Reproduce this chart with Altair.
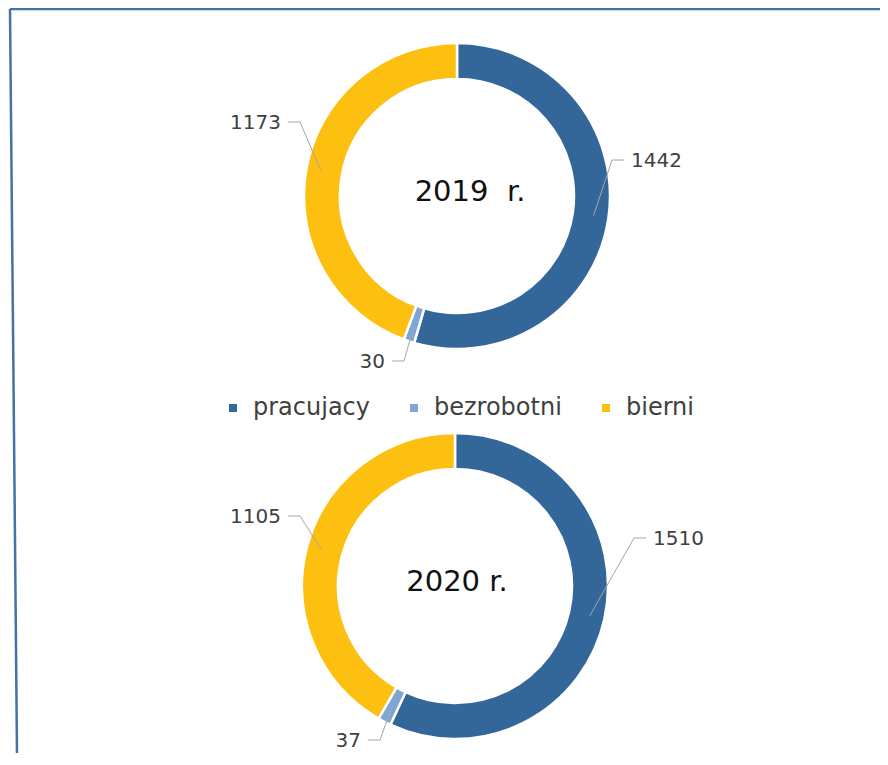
import math
import altair as alt
import pandas as pd

# ---------------- data ----------------
categories = ["pracujacy", "bezrobotni", "bierni"]
colors = ["#336699", "#7FA6D2", "#FDC010"]
years = ["2019", "2020"]
titles = ["2019 \u00a0r.", "2020 r."]
values_2019 = [1442, 30, 1173]
values_2020 = [1510, 37, 1105]
values = {"2019": values_2019, "2020": values_2020}

# ---------------- layout (page pixels) ----------------
W, H = 872, 745
M = 8  # page margin
centers = {"2019": (457, 196), "2020": (455, 586)}
title_shift = {"2019": (13, -4), "2020": (2, -4)}
R_OUT, R_IN, R_LEAD = 153, 117, 138
# elbow of each leader line, relative to the donut centre
elbows = {
    "2019": [(155, -36), (-53, 165), (-157, -74)],
    "2020": [(179, -48), (-75, 154), (-155, -70)],
}
ARM = 12
GAP = 7

arc_frames = {}
line_rows = []
label_rows = []
title_rows = []
for yi, yr in enumerate(years):
    vals = values[yr]
    cx, cy = centers[yr]
    arc_frames[yr] = pd.DataFrame(
        {"category": categories, "value": vals, "idx": list(range(len(vals)))}
    )
    total = sum(vals)
    cum = 0
    for i, v in enumerate(vals):
        mid = (cum + v / 2) / total * 2 * math.pi
        cum += v
        sx = cx + R_LEAD * math.sin(mid)
        sy = cy - R_LEAD * math.cos(mid)
        ex, ey = cx + elbows[yr][i][0], cy + elbows[yr][i][1]
        side = 1 if elbows[yr][i][0] > 0 else -1
        hx = ex + side * ARM
        lid = f"{yr}-{i}"
        for seq, (px, py) in enumerate([(sx, sy), (ex, ey), (hx, ey)]):
            line_rows.append({"id": lid, "seq": seq, "x": px - M, "y": py - M})
        label_rows.append(
            {
                "text": str(v),
                "x": hx + side * GAP - M,
                "y": ey + 1 - M,
                "align": "left" if side > 0 else "right",
            }
        )
    title_rows.append(
        {"text": titles[yi], "x": cx + title_shift[yr][0] - M, "y": cy + title_shift[yr][1] - M}
    )

lines_df = pd.DataFrame(line_rows)
labels_df = pd.DataFrame(label_rows)
titles_df = pd.DataFrame(title_rows)
frame_df = pd.DataFrame(
    [
        {"id": "top", "seq": 0, "x": 2, "y": 1},
        {"id": "top", "seq": 1, "x": W, "y": 1},
        {"id": "left", "seq": 0, "x": 2, "y": 1},
        {"id": "left", "seq": 1, "x": 9, "y": H},
    ]
)

xs = alt.Scale(domain=[0, W], range=[0, W], nice=False, zero=False)
ys = alt.Scale(domain=[0, H], range=[0, H], nice=False, zero=False)

color_enc = alt.Color(
    "category:N",
    scale=alt.Scale(domain=categories, range=colors),
    sort=categories,
    legend=alt.Legend(
        title=None,
        orient="none",
        legendX=221 - M,
        legendY=396 - M,
        direction="horizontal",
        symbolType="square",
        symbolSize=64,
        symbolStrokeWidth=0,
        labelFont="DejaVu Sans",
        labelFontSize=24,
        labelColor="#404040",
        labelOffset=8,
        columnPadding=32,
        padding=0,
    ),
)

layers = []
for yr in years:
    cx, cy = centers[yr]
    layers.append(
        alt.Chart(arc_frames[yr])
        .mark_arc(outerRadius=R_OUT, innerRadius=R_IN, stroke="white", strokeWidth=2.5)
        .encode(
            theta=alt.Theta("value:Q", stack=True),
            color=color_enc,
            order=alt.Order("idx:Q"),
            x=alt.value(cx - M),
            y=alt.value(cy - M),
        )
    )

leaders = (
    alt.Chart(lines_df)
    .mark_line(color="#A6A6A6", strokeWidth=1)
    .encode(
        x=alt.X("x:Q", scale=xs, axis=None),
        y=alt.Y("y:Q", scale=ys, axis=None),
        detail="id:N",
        order="seq:Q",
    )
)

frame = (
    alt.Chart(frame_df)
    .mark_line(color="#4472A8", strokeWidth=2.5)
    .encode(
        x=alt.X("x:Q", scale=xs, axis=None),
        y=alt.Y("y:Q", scale=ys, axis=None),
        detail="id:N",
        order="seq:Q",
    )
)

lab_left = (
    alt.Chart(labels_df)
    .transform_filter(alt.datum.align == "left")
    .mark_text(align="left", baseline="middle", font="DejaVu Sans", fontSize=20, color="#404040")
    .encode(
        x=alt.X("x:Q", scale=xs, axis=None),
        y=alt.Y("y:Q", scale=ys, axis=None),
        text="text:N",
    )
)
lab_right = (
    alt.Chart(labels_df)
    .transform_filter(alt.datum.align == "right")
    .mark_text(align="right", baseline="middle", font="DejaVu Sans", fontSize=20, color="#404040")
    .encode(
        x=alt.X("x:Q", scale=xs, axis=None),
        y=alt.Y("y:Q", scale=ys, axis=None),
        text="text:N",
    )
)

title_text = (
    alt.Chart(titles_df)
    .mark_text(align="center", baseline="middle", font="DejaVu Sans", fontSize=29, color="#111111")
    .encode(
        x=alt.X("x:Q", scale=xs, axis=None),
        y=alt.Y("y:Q", scale=ys, axis=None),
        text="text:N",
    )
)

chart = (
    alt.layer(frame, *layers, leaders, lab_left, lab_right, title_text)
    .resolve_scale(theta="independent")
    .properties(width=W, height=H, padding=0, autosize=alt.AutoSizeParams(type="none"), background="white")
    .configure_view(stroke=None)
)

chart.save("out.html", embed_options={"renderer": "svg", "actions": False})
